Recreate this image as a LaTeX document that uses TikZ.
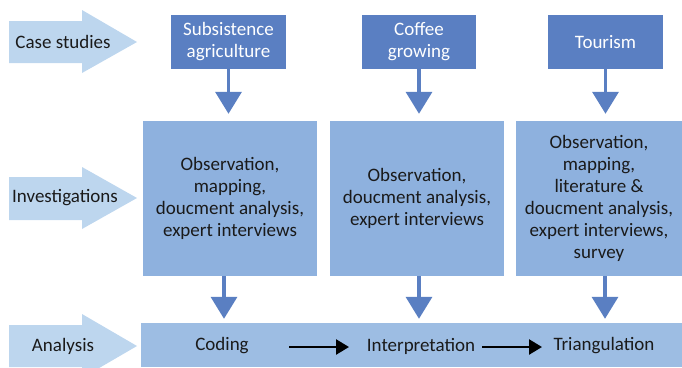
\documentclass[tikz,border=0pt]{standalone}
\usepackage{fontspec}
\setmainfont{Carlito}
\usetikzlibrary{arrows.meta}
\definecolor{topblue}{HTML}{5A7FC2}
\definecolor{midblue}{HTML}{8EB1DE}
\definecolor{barblue}{HTML}{9DBDE3}
\definecolor{bigarrow}{HTML}{BDD6EE}
\definecolor{txt}{HTML}{1A1A1A}
\begin{document}
\begin{tikzpicture}[x=1pt,y=-1pt,
  topbox/.style={fill=topblue,text=white,align=center,inner sep=0pt,font=\fontsize{19}{22}\selectfont},
  midbox/.style={fill=midblue,text=txt,align=center,inner sep=0pt,font=\fontsize{19}{22}\selectfont},
  barbox/.style={fill=barblue,inner sep=0pt},
  lbl/.style={text=txt,inner sep=0pt,font=\fontsize{19}{22}\selectfont},
  bigarr/.style={fill=bigarrow},
  downarr/.style={draw=topblue,line width=3.5pt,-{Triangle[width=26pt,length=22pt]}},
  flowarr/.style={draw=black,line width=2.5pt,-{Triangle[width=15pt,length=13pt]}}]
\useasboundingbox (0,0) rectangle (682,367);
% big side arrows
\fill[bigarr] (9,21) -- (82,21) -- (82,10) -- (137,42) -- (82,73) -- (82,63) -- (9,63) -- cycle;
\fill[bigarr] (9,177) -- (82,177) -- (82,167) -- (137,198) -- (82,229) -- (82,220) -- (9,220) -- cycle;
\fill[bigarr] (9,325) -- (82,325) -- (82,314) -- (137,346) -- (82,378) -- (82,367) -- (9,367) -- cycle;
\node[lbl] (cs) at (63,42) {Case studies};
\node[lbl] (inv) at (65,198) {Investigations};
\node[lbl] (an) at (63,346) {Analysis};
% top boxes
\node[topbox,minimum width=115pt,minimum height=54pt] (tb1) at (228.5,42) {Subsistence\\agriculture};
\node[topbox,minimum width=114pt,minimum height=54pt] (tb2) at (419,42) {Coffee\\growing};
\node[topbox,minimum width=115pt,minimum height=54pt] (tb3) at (605.5,42) {Tourism};
% middle boxes
\node[midbox,minimum width=174pt,minimum height=155pt] (mb1) at (230,198.5) {Observation,\\mapping,\\doucment analysis,\\expert interviews};
\node[midbox,minimum width=174pt,minimum height=155pt] (mb2) at (417,198.5) {Observation,\\doucment analysis,\\expert interviews};
\node[midbox,minimum width=166pt,minimum height=155pt] (mb3) at (599,198.5) {Observation,\\mapping,\\literature \&\\doucment analysis,\\expert interviews,\\survey};
% bottom bar
\node[barbox,minimum width=541pt,minimum height=44pt] (bar) at (411.5,345) {};
\node[lbl] (cod) at (222,346) {Coding};
\node[lbl] (int) at (421,346) {Interpretation};
\node[lbl] (tri) at (604,346) {Triangulation};
% down arrows
\draw[downarr,shorten >=7pt] (tb1.south) -- (tb1.south |- mb1.north);
\draw[downarr,shorten >=7pt] (tb2.south) -- (tb2.south |- mb2.north);
\draw[downarr,shorten >=7pt] (tb3.south) -- (tb3.south |- mb3.north);
\draw[downarr,shorten >=4pt] ([xshift=-6pt]mb1.south) -- ([xshift=-6pt]mb1.south |- bar.north);
\draw[downarr,shorten >=4pt] ([xshift=2pt]mb2.south) -- ([xshift=2pt]mb2.south |- bar.north);
\draw[downarr,shorten >=4pt] ([xshift=6pt]mb3.south) -- ([xshift=6pt]mb3.south |- bar.north);
% flow arrows
\coordinate (f1s) at (289,347);
\coordinate (f1e) at (349,347);
\coordinate (f2s) at (482,347);
\coordinate (f2e) at (542,347);
\draw[flowarr] (f1s) -- (f1e);
\draw[flowarr] (f2s) -- (f2e);
\end{tikzpicture}
\end{document}
